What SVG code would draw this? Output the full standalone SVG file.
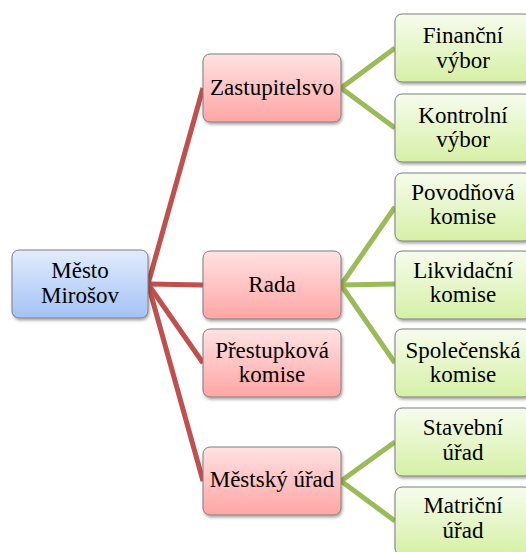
<svg xmlns="http://www.w3.org/2000/svg" width="526" height="552" viewBox="0 0 526 552">
<style>
.n rect{stroke:#7f7f7f;stroke-width:1;filter:url(#sh)}
.b rect{fill:url(#gb)}
.r rect{fill:url(#gr)}
.g rect{fill:url(#gg)}
text{font-size:23px;fill:#000;text-anchor:middle}
.red line{stroke:#C0504D;stroke-width:5}
.grn line{stroke:#9BBB59;stroke-width:5}
</style>
<defs>
<linearGradient id="gb" x1="0" y1="0" x2="0" y2="1"><stop offset="0" stop-color="#e2ecfd"/><stop offset="1" stop-color="#a3c2f5"/></linearGradient>
<linearGradient id="gr" x1="0" y1="0" x2="0" y2="1"><stop offset="0" stop-color="#ffe2e2"/><stop offset="1" stop-color="#ffa5a5"/></linearGradient>
<linearGradient id="gg" x1="0" y1="0" x2="0" y2="1"><stop offset="0" stop-color="#f6fced"/><stop offset="1" stop-color="#d6f0a6"/></linearGradient>
<filter id="sh" x="-10%" y="-10%" width="125%" height="130%"><feDropShadow dx="1" dy="2" stdDeviation="1.5" flood-color="#000" flood-opacity="0.35"/></filter>
</defs>
<g id="connectors">
<g class="red">
<line x1="148" y1="284" x2="203" y2="88"/>
<line x1="148" y1="284" x2="203" y2="285"/>
<line x1="148" y1="284" x2="203" y2="363"/>
<line x1="148" y1="284" x2="203" y2="481"/>
</g>
<g class="grn">
<line x1="341" y1="88" x2="395" y2="48"/>
<line x1="341" y1="88" x2="395" y2="128"/>
<line x1="341" y1="285" x2="395" y2="207"/>
<line x1="341" y1="285" x2="395" y2="284"/>
<line x1="341" y1="285" x2="395" y2="363"/>
<line x1="341" y1="481" x2="395" y2="442"/>
<line x1="341" y1="481" x2="395" y2="521"/>
</g>
</g>
<g font-family="Liberation Serif, Times New Roman, Tinos, Noto Serif, DejaVu Serif, FreeSerif, serif">
<g id="mesto" class="n b"><rect x="12" y="250" width="136" height="68" rx="7"/><text x="80" y="278">Město</text><text x="80" y="303">Mirošov</text></g>
<g id="zastupitelsvo" class="n r"><rect x="203" y="54" width="138" height="68" rx="7"/><text x="272" y="95">Zastupitelsvo</text></g>
<g id="rada" class="n r"><rect x="203" y="251" width="138" height="68" rx="7"/><text x="272" y="292">Rada</text></g>
<g id="prestupkova" class="n r"><rect x="203" y="329" width="138" height="68" rx="7"/><text x="272" y="358">Přestupková</text><text x="272" y="382">komise</text></g>
<g id="mestsky" class="n r"><rect x="203" y="447" width="138" height="68" rx="7"/><text x="272" y="487">Městský úřad</text></g>
<g id="financni" class="n g"><rect x="395" y="14" width="136" height="68" rx="7"/><text x="463" y="43">Finanční</text><text x="463" y="68">výbor</text></g>
<g id="kontrolni" class="n g"><rect x="395" y="94" width="136" height="68" rx="7"/><text x="463" y="123">Kontrolní</text><text x="463" y="147">výbor</text></g>
<g id="povodnova" class="n g"><rect x="395" y="173" width="136" height="68" rx="7"/><text x="463" y="200">Povodňová</text><text x="463" y="224">komise</text></g>
<g id="likvidacni" class="n g"><rect x="395" y="251" width="136" height="68" rx="7"/><text x="463" y="278">Likvidační</text><text x="463" y="302">komise</text></g>
<g id="spolecenska" class="n g"><rect x="395" y="329" width="136" height="68" rx="7"/><text x="463" y="358">Společenská</text><text x="463" y="382">komise</text></g>
<g id="stavebni" class="n g"><rect x="395" y="408" width="136" height="68" rx="7"/><text x="463" y="435">Stavební</text><text x="463" y="460">úřad</text></g>
<g id="matricni" class="n g"><rect x="395" y="487" width="136" height="68" rx="7"/><text x="463" y="513">Matriční</text><text x="463" y="538">úřad</text></g>
</g>
</svg>
